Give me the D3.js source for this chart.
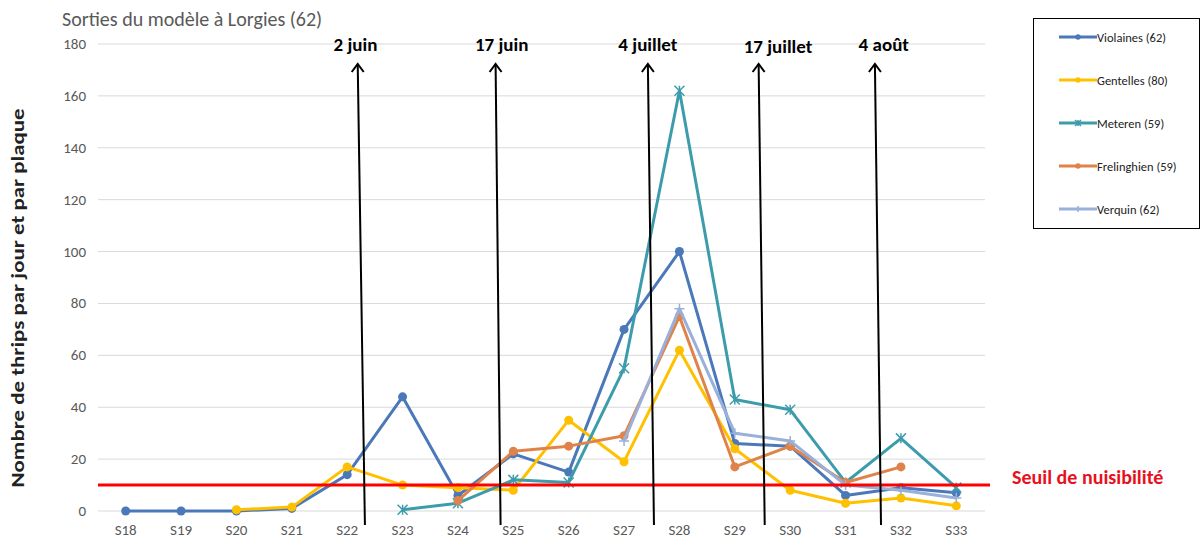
<!DOCTYPE html>
<html>
<head>
<meta charset="utf-8">
<script src="https://cdn.jsdelivr.net/npm/d3@7"></script>
<style>
  body { margin: 0; background: #fff; }
  #chart { width: 1204px; height: 540px; }
  text { font-family: Carlito, Calibri, "Open Sans", sans-serif; }
</style>
</head>
<body>
<div id="chart"></div>
<script>
// weeks on the x axis
var weeks = ["S18","S19","S20","S21","S22","S23","S24","S25","S26","S27","S28","S29","S30","S31","S32","S33"];
var yTicks = [0, 20, 40, 60, 80, 100, 120, 140, 160, 180];

// thrips per day and per plate (null = no catch yet)
var violaines   = [0, 0, 0, 1, 14, 44, 6, 22, 15, 70, 100, 26, 25, 6, 9, 7];
var gentelles   = [null, null, 0.5, 1.5, 17, 10, 9, 8, 35, 19, 62, 24, 8, 3, 5, 2];
var meteren     = [null, null, null, null, null, 0.5, 3, 12, 11, 55, 162, 43, 39, 11, 28, 9];
var frelinghien = [null, null, null, null, null, null, 4, 23, 25, 29, 75, 17, 25, 11, 17, null];
var verquin     = [null, null, null, null, null, null, null, null, null, 27, 78, 30, 27, 10, 8, 5];

var seriesNames = ["Violaines (62)", "Gentelles (80)", "Meteren (59)", "Frelinghien (59)", "Verquin (62)"];
var threshold = 10;

// model outputs (arrows), position in week units from S18
var arrowLabels = ["2 juin", "17 juin", "4 juillet", "17 juillet", "4 août"];
var arrowBottom = [4.32, 6.77, 9.54, 11.54, 13.64];
var arrowTop    = [4.19, 6.68, 9.43, 11.43, 13.53];
var labelPos    = [4.15, 6.79, 9.43, 11.78, 13.69];

function init() {
    var w = 1204, h = 540;
    var svg = d3.select("#chart").append("svg")
                .attr("width", w)
                .attr("height", h);

    var x = d3.scalePoint().domain(weeks).range([98, 984]).padding(0.5);
    var y = d3.scaleLinear().domain([0, 180]).range([511, 44]);
    var xi = function(i) { return x(weeks[0]) + i * x.step(); };

    var colors = ["#4a78b9", "#ffc000", "#3d9cac", "#e0834a", "#98b0da"];
    var markers = ["circle", "circle", "star", "circle", "plus"];
    var data = [violaines, gentelles, meteren, frelinghien, verquin];

    // gridlines
    svg.append("g").selectAll("line")
        .data(yTicks).enter().append("line")
        .attr("x1", 98).attr("x2", 985)
        .attr("y1", function(d) { return y(d); })
        .attr("y2", function(d) { return y(d); })
        .attr("stroke", "#d9d9d9").attr("stroke-width", 1);

    // y tick labels
    svg.append("g").selectAll("text")
        .data(yTicks).enter().append("text")
        .attr("x", 86).attr("y", function(d) { return y(d) + 5; })
        .attr("text-anchor", "end")
        .attr("font-size", 15).attr("fill", "#595959")
        .text(function(d) { return d; });

    // x tick labels
    svg.append("g").selectAll("text")
        .data(weeks).enter().append("text")
        .attr("x", function(d) { return x(d); }).attr("y", 535)
        .attr("text-anchor", "middle")
        .attr("font-size", 15).attr("fill", "#595959")
        .text(function(d) { return d; });

    // title + axis title
    svg.append("text").attr("x", 62).attr("y", 26)
        .attr("font-size", 20).attr("fill", "#595959")
        .text("Sorties du modèle à Lorgies (62)");
    svg.append("text")
        .attr("transform", "translate(24,298) rotate(-90)")
        .attr("text-anchor", "middle")
        .attr("font-size", 17).attr("font-weight", "bold").attr("fill", "#222")
        .attr("textLength", 379).attr("lengthAdjust", "spacingAndGlyphs")
        .text("Nombre de thrips par jour et par plaque");

    // series
    var line = d3.line()
        .defined(function(d) { return d != null; })
        .x(function(d, i) { return xi(i); })
        .y(function(d) { return y(d); });

    data.forEach(function(vals, s) {
        var g = svg.append("g");
        g.append("path")
            .attr("d", line(vals))
            .attr("fill", "none")
            .attr("stroke", colors[s])
            .attr("stroke-width", 3)
            .attr("stroke-linejoin", "round");
        var pts = vals.map(function(v, i) { return {v: v, i: i}; })
                      .filter(function(p) { return p.v != null; });
        drawMarkers(g, pts, markers[s], colors[s], function(p) { return xi(p.i); }, function(p) { return y(p.v); });
    });

    // threshold
    svg.append("line")
        .attr("x1", 98).attr("x2", 990)
        .attr("y1", y(threshold)).attr("y2", y(threshold))
        .attr("stroke", "#ff0000").attr("stroke-width", 3);
    svg.append("text").attr("x", 1012).attr("y", y(threshold) - 1)
        .attr("font-size", 20).attr("font-weight", "bold").attr("fill", "#e8101e")
        .text("Seuil de nuisibilité");

    // arrows
    var ag = svg.append("g");
    arrowLabels.forEach(function(lbl, k) {
        var xb = xi(arrowBottom[k]), xt = xi(arrowTop[k]);
        var yb = 525, yt = 64;
        ag.append("line")
            .attr("x1", xb).attr("y1", yb).attr("x2", xt).attr("y2", yt)
            .attr("stroke", "#000").attr("stroke-width", 2);
        ag.append("path")
            .attr("d", "M" + (xt - 6) + "," + (yt + 8) + "L" + xt + "," + yt + "L" + (xt + 6) + "," + (yt + 8))
            .attr("fill", "none").attr("stroke", "#000").attr("stroke-width", 2);
        ag.append("text")
            .attr("x", xi(labelPos[k])).attr("y", k === 3 ? 53 : 51)
            .attr("text-anchor", "middle")
            .attr("font-size", 19).attr("font-weight", "bold").attr("fill", "#000")
            .text(lbl);
    });

    // legend
    var lg = svg.append("g");
    lg.append("rect").attr("x", 1033.5).attr("y", 18.5).attr("width", 166).attr("height", 210)
        .attr("fill", "#fff").attr("stroke", "#000").attr("stroke-width", 1);
    seriesNames.forEach(function(name, s) {
        var ly = 37 + s * 43;
        lg.append("line").attr("x1", 1059).attr("x2", 1097).attr("y1", ly).attr("y2", ly)
            .attr("stroke", colors[s]).attr("stroke-width", 3);
        drawMarkers(lg, [{}], markers[s], colors[s], function() { return 1078; }, function() { return ly; }, 0.6);
        lg.append("text").attr("x", 1097).attr("y", ly + 4.5)
            .attr("font-size", 12.5).attr("fill", "#222")
            .text(name);
    });
}

function drawMarkers(g, pts, type, color, fx, fy, sc) {
    sc = sc || 1;
    if (type === "circle") {
        g.selectAll(null).data(pts).enter().append("circle")
            .attr("cx", fx).attr("cy", fy).attr("r", 4.5 * sc)
            .attr("fill", color);
    } else if (type === "star") {
        var r = 5 * sc;
        g.selectAll(null).data(pts).enter().append("path")
            .attr("d", function(p) {
                var cx = fx(p), cy = fy(p);
                return "M" + (cx - r) + "," + (cy - r) + "L" + (cx + r) + "," + (cy + r) +
                       "M" + (cx - r) + "," + (cy + r) + "L" + (cx + r) + "," + (cy - r) +
                       "M" + cx + "," + (cy - r) + "L" + cx + "," + (cy + r);
            })
            .attr("stroke", color).attr("stroke-width", 1.5).attr("fill", "none");
    } else {
        var r2 = 5 * sc;
        g.selectAll(null).data(pts).enter().append("path")
            .attr("d", function(p) {
                var cx = fx(p), cy = fy(p);
                return "M" + cx + "," + (cy - r2) + "L" + cx + "," + (cy + r2) +
                       "M" + (cx - r2) + "," + cy + "L" + (cx + r2) + "," + cy;
            })
            .attr("stroke", color).attr("stroke-width", 1.5).attr("fill", "none");
    }
}

window.onload = init;
</script>
</body>
</html>
